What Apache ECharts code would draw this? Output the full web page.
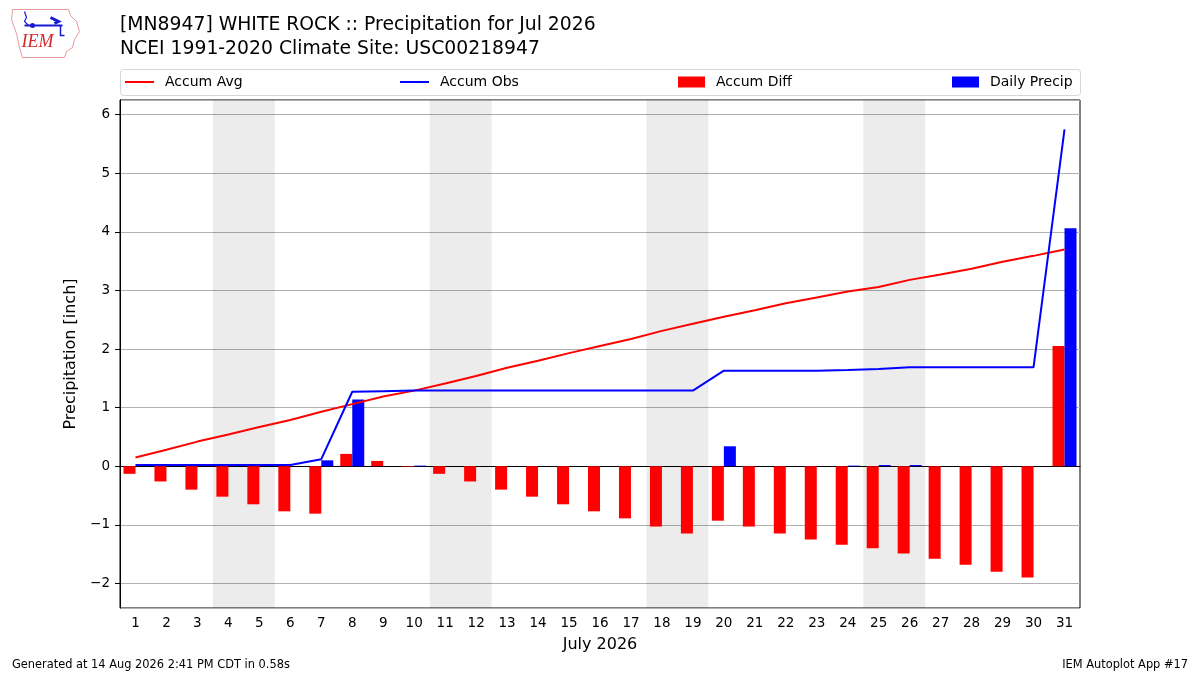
<!DOCTYPE html>
<html>
<head>
<meta charset="utf-8">
<script src="https://cdn.jsdelivr.net/npm/echarts@6/dist/echarts.min.js"></script>
<style>
  html, body { margin: 0; padding: 0; background: #fff; }
  #main { width: 1200px; height: 675px; }
</style>
</head>
<body>
<div id="main"></div>
<script>
// days of July 2026
let days = [];
for (let d = 1; d <= 31; d++) days.push(String(d));

// accumulated climatology (inch)
let accumAvg = [0.15, 0.28, 0.42, 0.54, 0.67, 0.79, 0.93, 1.06, 1.19, 1.29,
  1.41, 1.54, 1.68, 1.80, 1.93, 2.05, 2.17, 2.31, 2.43, 2.55,
  2.66, 2.78, 2.88, 2.98, 3.06, 3.18, 3.27, 3.37, 3.49, 3.59, 3.70];
// accumulated observed (inch)
let accumObs = [0.02, 0.02, 0.02, 0.02, 0.02, 0.02, 0.12, 1.27, 1.28, 1.29,
  1.29, 1.29, 1.29, 1.29, 1.29, 1.29, 1.29, 1.29, 1.29, 1.63,
  1.63, 1.63, 1.63, 1.64, 1.66, 1.69, 1.69, 1.69, 1.69, 1.69, 5.75];
// observed minus climatology
let accumDiff = [-0.13, -0.26, -0.40, -0.52, -0.65, -0.77, -0.81, 0.21, 0.09, -0.01,
  -0.13, -0.26, -0.40, -0.52, -0.65, -0.77, -0.89, -1.03, -1.15, -0.93,
  -1.03, -1.15, -1.25, -1.34, -1.40, -1.49, -1.58, -1.68, -1.80, -1.90, 2.05];
// daily precipitation
let dailyPrecip = [0, 0, 0, 0, 0, 0, 0.10, 1.14, 0, 0.01,
  0, 0, 0, 0, 0, 0, 0, 0, 0, 0.34,
  0, 0, 0, 0.01, 0.02, 0.02, 0, 0, 0, 0, 4.06];
// weekend spans (day numbers)
let weekends = [[3.5, 5.5], [10.5, 12.5], [17.5, 19.5], [24.5, 26.5]];

let font = 'DejaVu Sans';
let dom = document.getElementById('main');
let myChart = echarts.init(dom, null, {renderer: 'canvas'});

function legendAt(name, left, isLine) {
  return {
    data: [name],
    left: left,
    top: 70,
    icon: 'rect',
    itemWidth: isLine ? 29 : 27,
    itemHeight: isLine ? 2 : 11,
    selectedMode: false,
    textStyle: {fontFamily: font, fontSize: 14, color: '#000', padding: [0, 0, 0, 6]}
  };
}

let option = {
  animation: false,
  backgroundColor: '#fff',
  textStyle: {fontFamily: font},
  legend: [
    legendAt('Accum Avg', 120, true),
    legendAt('Accum Obs', 395, true),
    legendAt('Accum Diff', 673, false),
    legendAt('Daily Precip', 947, false)
  ],
  grid: {
    left: 120, right: 120, top: 100, bottom: 67,
    show: true, borderColor: '#000', borderWidth: 1, backgroundColor: 'transparent'
  },
  xAxis: [{
    type: 'category',
    data: days,
    name: 'July 2026',
    nameLocation: 'middle',
    nameGap: 29,
    nameTextStyle: {fontFamily: font, fontSize: 16, color: '#000'},
    axisLine: {lineStyle: {color: '#000', width: 1}},
    axisTick: {alignWithLabel: true, length: 5, lineStyle: {color: '#000'}},
    axisLabel: {fontFamily: font, fontSize: 13.5, color: '#000', margin: 8},
    splitLine: {show: false}
  }, {
    type: 'value',
    min: 0.5,
    max: 31.5,
    show: false
  }],
  yAxis: {
    type: 'value',
    min: -2.42,
    max: 6.25,
    minInterval: 1,
    maxInterval: 1,
    splitNumber: 8,
    name: 'Precipitation [inch]',
    nameLocation: 'middle',
    nameGap: 38,
    nameTextStyle: {fontFamily: font, fontSize: 16, color: '#000'},
    axisLine: {show: true, lineStyle: {color: '#000', width: 1}},
    axisTick: {show: true, length: 5, lineStyle: {color: '#000'}},
    axisLabel: {
      fontFamily: font, fontSize: 13.5, color: '#000', margin: 10,
      showMinLabel: false, showMaxLabel: false,
      formatter: function (v) {
        if (Math.abs(v - Math.round(v)) > 1e-6) return '';
        return v < 0 ? '\u2212' + Math.abs(v) : String(v);
      }
    },
    splitLine: {show: true, lineStyle: {color: '#b0b0b0', width: 1}}
  },
  series: [
    {
      name: 'weekend',
      type: 'line',
      xAxisIndex: 1,
      data: [],
      silent: true,
      markArea: {
        silent: true,
        itemStyle: {color: 'rgba(0,0,0,0.075)'},
        data: weekends.map(function (w) {
          return [{xAxis: w[0]}, {xAxis: w[1]}];
        })
      }
    },
    {
      name: 'Accum Diff',
      type: 'bar',
      data: accumDiff,
      barWidth: 12,
      barGap: '0%',
      itemStyle: {color: '#ff0000'},
      z: 2
    },
    {
      name: 'Daily Precip',
      type: 'bar',
      data: dailyPrecip,
      barWidth: 12,
      itemStyle: {color: '#0000ff'},
      z: 2
    },
    {
      name: 'Accum Avg',
      type: 'line',
      data: accumAvg,
      symbol: 'none',
      itemStyle: {color: '#ff0000'},
      lineStyle: {color: '#ff0000', width: 2},
      z: 3
    },
    {
      name: 'Accum Obs',
      type: 'line',
      data: accumObs,
      symbol: 'none',
      itemStyle: {color: '#0000ff'},
      lineStyle: {color: '#0000ff', width: 2},
      z: 3
    }
  ],
  graphic: [
    // legend frame
    {
      type: 'rect', left: 120, top: 69, z: -1,
      shape: {width: 960, height: 26, r: 3},
      style: {fill: '#fff', stroke: '#d6d6d6', lineWidth: 1}
    },
    // titles
    {
      type: 'text', left: 120, top: 16,
      style: {text: '[MN8947] WHITE ROCK :: Precipitation for Jul 2026', font: '18.8px "DejaVu Sans"', fill: '#000'}
    },
    {
      type: 'text', left: 120, top: 40,
      style: {text: 'NCEI 1991-2020 Climate Site: USC00218947', font: '18.8px "DejaVu Sans"', fill: '#000'}
    },
    // footer
    {
      type: 'text', left: 12, top: 660,
      style: {text: 'Generated at 14 Aug 2026 2:41 PM CDT in 0.58s', font: '11.4px "DejaVu Sans"', fill: '#000'}
    },
    {
      type: 'text', right: 12, top: 660,
      style: {text: 'IEM Autoplot App #17', font: '11.4px "DejaVu Sans"', fill: '#000'}
    },
    // rough IEM logo
    {
      type: 'group', left: 9, top: 7,
      children: [
        {
          type: 'polyline',
          shape: {points: [[2, 2], [58, 2], [60, 8], [66, 14], [69, 24], [64, 32], [62, 40], [56, 44], [54, 50], [12, 50], [9, 40], [6, 26], [1, 12], [2, 2]]},
          style: {stroke: '#e89a9a', fill: 'none', lineWidth: 1}
        },
        {
          type: 'polyline',
          shape: {points: [[14, 18], [52, 18]]},
          style: {stroke: '#1a1ad0', lineWidth: 2}
        },
        {
          type: 'polyline',
          shape: {points: [[40, 10], [48, 14], [44, 16]]},
          style: {stroke: '#1a1ad0', lineWidth: 3, fill: 'none'}
        },
        {
          type: 'polyline',
          shape: {points: [[50, 18], [50, 28], [54, 28]]},
          style: {stroke: '#1a1ad0', lineWidth: 1.5, fill: 'none'}
        },
        {
          type: 'polyline',
          shape: {points: [[14, 4], [16, 10], [14, 14], [18, 18]]},
          style: {stroke: '#1a1ad0', lineWidth: 1.2, fill: 'none'}
        },
        {
          type: 'circle', shape: {cx: 22, cy: 18, r: 2.5},
          style: {fill: '#1a1ad0'}
        },
        {
          type: 'text', left: 11, top: 26,
          style: {text: 'IEM', font: 'italic 18px "Liberation Serif"', fill: '#d42a2a'}
        }
      ]
    }
  ]
};

myChart.setOption(option);
</script>
</body>
</html>
